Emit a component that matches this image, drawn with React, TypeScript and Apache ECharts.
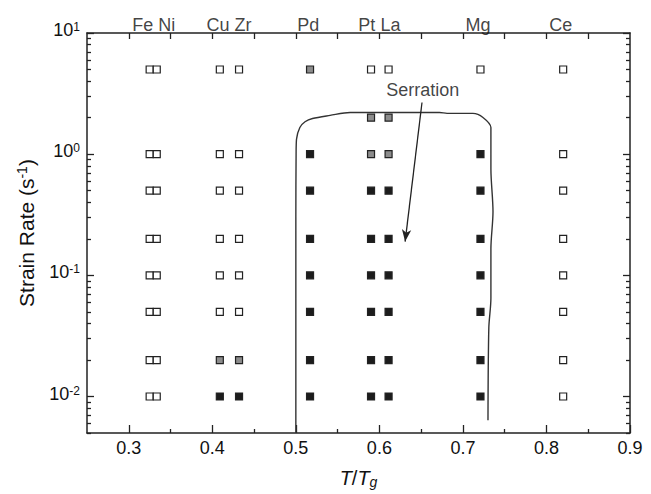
import React, { useEffect, useRef } from "react";
import * as echarts from "echarts";

// strain rates tested (s^-1)
const rates = [5, 2, 1, 0.5, 0.2, 0.1, 0.05, 0.02, 0.01];
// alloys and their T/Tg positions
const alloyNames = ["Fe", "Ni", "Cu", "Zr", "Pd", "Pt", "La", "Mg", "Ce"];
const alloyX = [0.325, 0.3335, 0.409, 0.432, 0.517, 0.59, 0.611, 0.721, 0.82];
// state per rate: o = open (no serration), g = grey (partial), b = black (serration), "" = none
const feState = ["o", "", "o", "o", "o", "o", "o", "o", "o"];
const niState = ["o", "", "o", "o", "o", "o", "o", "o", "o"];
const cuState = ["o", "", "o", "o", "o", "o", "o", "g", "b"];
const zrState = ["o", "", "o", "o", "o", "o", "o", "g", "b"];
const pdState = ["g", "", "b", "b", "b", "b", "b", "b", "b"];
const ptState = ["o", "g", "g", "b", "b", "b", "b", "b", "b"];
const laState = ["o", "g", "g", "b", "b", "b", "b", "b", "b"];
const mgState = ["o", "", "b", "b", "b", "b", "b", "b", "b"];
const ceState = ["o", "", "o", "o", "o", "o", "o", "o", "o"];
const allStates = [feState, niState, cuState, zrState, pdState, ptState, laState, mgState, ceState];

// group labels on top
const groupLabels = ["Fe Ni", "Cu Zr", "Pd", "Pt La", "Mg", "Ce"];
const groupLabelX = [0.33, 0.42, 0.515, 0.6, 0.718, 0.817];

// serration boundary
const serrX = [0.5, 0.5, 0.5, 0.5003, 0.5008, 0.5048, 0.511, 0.52, 0.541, 0.565, 0.62, 0.672, 0.681, 0.712, 0.724, 0.7335, 0.7335, 0.736, 0.7335, 0.7335, 0.731, 0.73];
const serrY = [0.005, 0.05, 0.3, 1.0, 1.33, 1.66, 1.85, 1.97, 2.09, 2.21, 2.21, 2.21, 2.17, 2.17, 2.01, 1.66, 0.753, 0.335, 0.166, 0.0647, 0.0368, 0.00636];

const serrLabel = "Serration";
const serrLabelPos = [0.652, 3.4];
const arrowFrom = [0.651, 2.67];
const arrowTo = [0.6308, 0.19];

// axis ticks
const xMajor = [0.3, 0.4, 0.5, 0.6, 0.7, 0.8, 0.9];
const xMinor = [0.35, 0.45, 0.55, 0.65, 0.75, 0.85];
const xTop = [0.3, 0.35, 0.4, 0.45, 0.5, 0.55, 0.6, 0.65, 0.7, 0.75, 0.8, 0.85];
const yMajor = [0.01, 0.1, 1, 10];
const yMinor = [0.005, 0.006, 0.007, 0.008, 0.009, 0.02, 0.03, 0.04, 0.05, 0.06, 0.07, 0.08, 0.09, 0.2, 0.3, 0.4, 0.5, 0.6, 0.7, 0.8, 0.9, 2, 3, 4, 5, 6, 7, 8, 9];

const FONT = "Liberation Sans, Arial, Helvetica, sans-serif";
const INK = "#222";

function pointsOf(code: string) {
  const out: number[][] = [];
  allStates.forEach((st, i) => {
    st.forEach((s, j) => {
      if (s === code) out.push([alloyX[i], rates[j]]);
    });
  });
  return out;
}

export default function App() {
  const ref = useRef<HTMLDivElement>(null);
  useEffect(() => {
    if (!ref.current) return;
    const chart = echarts.init(ref.current, undefined, { renderer: "svg" });
    const axisLine = { show: true, onZero: false, lineStyle: { color: INK, width: 1.5 } };
    const tickStyle = { color: INK, width: 1.3 };
    const xBase = { type: "value", min: 0.25, max: 0.9, splitLine: { show: false } };
    const yBase = { type: "log", logBase: 10, min: 0.005, max: 10, splitLine: { show: false } };
    const sq = (fill: string) => ({
      type: "scatter",
      symbol: "rect",
      symbolSize: 7,
      itemStyle: { color: fill, borderColor: INK, borderWidth: 1.2, opacity: 1 },
      z: 5,
    });
    chart.setOption({
      animation: false,
      textStyle: { fontFamily: FONT },
      grid: { left: 87, right: 21, top: 33, bottom: 59, show: false },
      xAxis: [
        {
          ...xBase,
          position: "bottom",
          axisLine,
          axisTick: { show: true, inside: true, length: 8, customValues: xMajor, lineStyle: tickStyle },
          axisLabel: {
            show: true,
            customValues: xMajor,
            margin: 6,
            fontSize: 18,
            color: "#111",
            fontFamily: FONT,
            formatter: (v: number) => v.toFixed(1),
          },
          name: "{i|T}{a|/}{i|T}{g|g}",
          nameLocation: "middle",
          nameGap: 34,
          nameTextStyle: {
            rich: {
              i: { fontSize: 20, fontStyle: "italic", fontFamily: FONT, color: "#111", lineHeight: 22 },
              a: { fontSize: 20, fontFamily: FONT, color: "#111", lineHeight: 22 },
              g: { fontSize: 14, fontStyle: "italic", fontFamily: FONT, color: "#111", lineHeight: 12, verticalAlign: "bottom" },
            },
          },
        },
        {
          ...xBase,
          position: "bottom",
          axisLine: { show: false },
          axisTick: { show: true, inside: true, length: 4, customValues: xMinor, lineStyle: tickStyle },
          axisLabel: { show: false },
        },
        {
          ...xBase,
          position: "top",
          axisLine,
          axisTick: { show: true, inside: true, length: 6, customValues: xTop, lineStyle: tickStyle },
          axisLabel: { show: false },
        },
      ],
      yAxis: [
        {
          ...yBase,
          position: "left",
          axisLine,
          axisTick: { show: true, inside: true, length: 7, customValues: yMajor, lineStyle: tickStyle },
          axisLabel: {
            show: true,
            customValues: yMajor,
            margin: 7,
            padding: [0, 0, 6, 0],
            formatter: (v: number) => `{b|10}{s|${Math.round(Math.log10(v))}}`,
            rich: {
              b: { fontSize: 18, fontFamily: FONT, color: "#111", lineHeight: 18 },
              s: { fontSize: 12, fontFamily: FONT, color: "#111", lineHeight: 8, verticalAlign: "top" },
            },
          },
          name: "{a|Strain Rate (s}{s|-1}{a|)}",
          nameLocation: "middle",
          nameRotate: 90,
          nameGap: 50,
          nameTextStyle: {
            rich: {
              a: { fontSize: 21, fontFamily: FONT, color: "#111", lineHeight: 22 },
              s: { fontSize: 14, fontFamily: FONT, color: "#111", lineHeight: 10, verticalAlign: "top" },
            },
          },
        },
        {
          ...yBase,
          position: "left",
          axisLine: { show: false },
          axisTick: { show: true, inside: true, length: 4, customValues: yMinor, lineStyle: tickStyle },
          axisLabel: { show: false },
        },
        {
          ...yBase,
          position: "right",
          axisLine,
          axisTick: { show: true, inside: true, length: 7, customValues: yMajor, lineStyle: tickStyle },
          axisLabel: { show: false },
        },
        {
          ...yBase,
          position: "right",
          axisLine: { show: false },
          axisTick: { show: true, inside: true, length: 4, customValues: yMinor, lineStyle: tickStyle },
          axisLabel: { show: false },
        },
      ],
      series: [
        {
          type: "line",
          data: serrX.map((x, i) => [x, serrY[i]]),
          showSymbol: false,
          symbol: "none",
          smooth: 0.3,
          lineStyle: { color: "#333", width: 1.4 },
          z: 3,
        },
        { ...sq("#ffffff"), data: pointsOf("o") },
        { ...sq("#8c8c8c"), data: pointsOf("g") },
        { ...sq("#1c1c1c"), data: pointsOf("b") },
        {
          type: "scatter",
          data: groupLabels.map((t, i) => ({ value: [groupLabelX[i], 10], name: t })),
          symbolSize: 1,
          itemStyle: { color: "transparent" },
          label: {
            show: true,
            position: "top",
            distance: -1,
            formatter: (p: any) => p.name,
            fontSize: 18,
            color: "#111",
            fontFamily: FONT,
          },
          z: 6,
        },
        {
          type: "scatter",
          data: [{ value: serrLabelPos, name: serrLabel }],
          symbolSize: 1,
          itemStyle: { color: "transparent" },
          label: {
            show: true,
            position: "inside",
            formatter: (p: any) => p.name,
            fontSize: 18,
            color: "#111",
            fontFamily: FONT,
          },
          markLine: {
            silent: true,
            symbol: ["none", "arrow"],
            symbolSize: [7, 12],
            label: { show: false },
            lineStyle: { color: "#222", width: 1.3, type: "solid" },
            data: [[{ coord: arrowFrom }, { coord: arrowTo }]],
          },
          z: 6,
        },
      ],
    });
    return () => chart.dispose();
  }, []);
  return (
    <div
      ref={ref}
      style={{ position: "fixed", left: 0, top: 0, width: 651, height: 494, background: "#fff" }}
    />
  );
}
